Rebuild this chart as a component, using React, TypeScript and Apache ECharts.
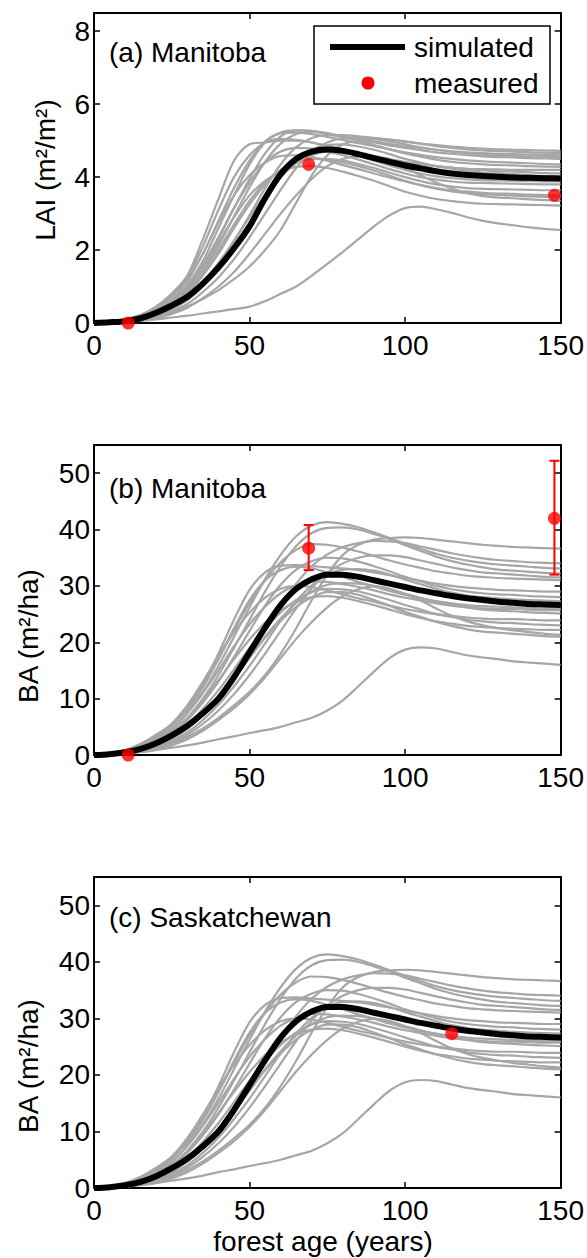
import React, { useEffect, useRef } from "react";
import * as echarts from "echarts";

// ---- ages (x grid shared by all simulated runs), every 5 years ----
const AGES = [0, 5, 10, 15, 20, 25, 30, 35, 40, 45, 50, 55, 60, 65, 70, 75, 80, 85, 90, 95, 100, 105, 110, 115, 120, 125, 130, 135, 140, 145, 150];

// ---- LAI (panel a) ----
const LAI_SIM = [0, 0.02, 0.05, 0.13, 0.28, 0.48, 0.72, 1.08, 1.52, 2.05, 2.65, 3.42, 4.08, 4.5, 4.7, 4.76, 4.72, 4.63, 4.52, 4.42, 4.32, 4.24, 4.16, 4.1, 4.06, 4.03, 4.01, 3.99, 3.98, 3.97, 3.96];
const lai01 = [0, 0.03, 0.1, 0.22, 0.45, 0.8, 1.3, 2.3, 3.4, 4.45, 4.9, 4.95, 5.0, 5.0, 4.95, 4.85, 4.75, 4.65, 4.55, 4.47, 4.4, 4.35, 4.3, 4.26, 4.22, 4.19, 4.16, 4.15, 4.13, 4.11, 4.1];
const lai02 = [0, 0.03, 0.08, 0.18, 0.35, 0.65, 1.05, 1.7, 2.6, 3.5, 4.35, 4.95, 5.22, 5.28, 5.25, 5.18, 5.1, 5.02, 4.95, 4.87, 4.8, 4.74, 4.68, 4.64, 4.6, 4.57, 4.55, 4.54, 4.52, 4.51, 4.5];
const lai03 = [0, 0.02, 0.07, 0.16, 0.3, 0.56, 0.92, 1.5, 2.3, 3.15, 3.95, 4.65, 5.12, 5.28, 5.27, 5.2, 5.12, 5.05, 4.98, 4.91, 4.85, 4.8, 4.75, 4.71, 4.68, 4.66, 4.64, 4.63, 4.62, 4.61, 4.6];
const lai04 = [0, 0.03, 0.09, 0.2, 0.4, 0.72, 1.15, 1.9, 2.8, 3.7, 4.45, 4.98, 5.2, 5.22, 5.18, 5.1, 5.02, 4.93, 4.85, 4.76, 4.68, 4.61, 4.55, 4.5, 4.46, 4.43, 4.41, 4.4, 4.38, 4.36, 4.35];
const lai05 = [0, 0.02, 0.05, 0.12, 0.22, 0.4, 0.68, 1.08, 1.62, 2.25, 2.95, 3.7, 4.35, 4.82, 5.07, 5.15, 5.15, 5.12, 5.08, 5.03, 4.97, 4.92, 4.88, 4.84, 4.8, 4.78, 4.76, 4.75, 4.74, 4.73, 4.72];
const lai06 = [0, 0.01, 0.04, 0.08, 0.15, 0.28, 0.45, 0.66, 0.9, 1.2, 1.55, 2.0, 2.55, 3.3, 4.05, 4.6, 4.9, 5.0, 5.05, 5.03, 4.98, 4.92, 4.85, 4.8, 4.76, 4.73, 4.71, 4.7, 4.68, 4.67, 4.66];
const lai07 = [0, 0.03, 0.1, 0.22, 0.45, 0.8, 1.25, 2.1, 3.1, 4.0, 4.6, 4.95, 5.05, 5.02, 4.95, 4.85, 4.72, 4.58, 4.45, 4.32, 4.2, 4.1, 4.02, 3.97, 3.94, 3.92, 3.91, 3.9, 3.89, 3.88, 3.88];
const lai08 = [0, 0.02, 0.06, 0.14, 0.28, 0.52, 0.88, 1.42, 2.12, 2.92, 3.72, 4.42, 4.92, 5.18, 5.25, 5.2, 5.1, 5.0, 4.88, 4.76, 4.65, 4.56, 4.48, 4.42, 4.38, 4.35, 4.33, 4.32, 4.3, 4.29, 4.28];
const lai09 = [0, 0.03, 0.08, 0.17, 0.33, 0.6, 1.0, 1.6, 2.35, 3.15, 3.85, 4.4, 4.7, 4.8, 4.78, 4.7, 4.6, 4.48, 4.35, 4.22, 4.1, 4.0, 3.93, 3.88, 3.85, 3.84, 3.83, 3.82, 3.81, 3.8, 3.8];
const lai10 = [0, 0.03, 0.09, 0.2, 0.4, 0.74, 1.2, 1.9, 2.75, 3.5, 4.05, 4.4, 4.58, 4.6, 4.55, 4.45, 4.33, 4.22, 4.1, 3.99, 3.88, 3.78, 3.7, 3.64, 3.6, 3.57, 3.55, 3.54, 3.52, 3.51, 3.5];
const lai11 = [0, 0.02, 0.05, 0.11, 0.22, 0.42, 0.7, 1.12, 1.65, 2.25, 2.9, 3.5, 4.0, 4.38, 4.6, 4.7, 4.7, 4.65, 4.58, 4.5, 4.42, 4.36, 4.3, 4.26, 4.23, 4.22, 4.21, 4.2, 4.2, 4.2, 4.2];
const lai12 = [0, 0.02, 0.06, 0.13, 0.25, 0.48, 0.8, 1.3, 1.9, 2.6, 3.25, 3.8, 4.2, 4.42, 4.5, 4.48, 4.4, 4.3, 4.18, 4.04, 3.9, 3.78, 3.68, 3.61, 3.56, 3.53, 3.51, 3.49, 3.47, 3.46, 3.45];
const lai13 = [0, 0.02, 0.07, 0.15, 0.3, 0.56, 0.95, 1.5, 2.2, 2.9, 3.5, 3.9, 4.15, 4.28, 4.3, 4.25, 4.15, 4.03, 3.9, 3.75, 3.6, 3.49, 3.4, 3.34, 3.3, 3.27, 3.26, 3.25, 3.24, 3.23, 3.22];
const lai14 = [0, 0.01, 0.03, 0.07, 0.13, 0.25, 0.42, 0.68, 1.0, 1.4, 1.9, 2.45, 3.0, 3.5, 3.95, 4.3, 4.5, 4.56, 4.55, 4.42, 4.25, 4.05, 3.85, 3.69, 3.56, 3.48, 3.44, 3.42, 3.39, 3.37, 3.35];
const lai15 = [0, 0.02, 0.06, 0.13, 0.26, 0.5, 0.85, 1.35, 2.0, 2.7, 3.35, 3.85, 4.2, 4.42, 4.5, 4.5, 4.45, 4.36, 4.25, 4.12, 4.0, 3.89, 3.8, 3.74, 3.7, 3.68, 3.67, 3.66, 3.65, 3.64, 3.64];
const lai16 = [0, 0.01, 0.03, 0.06, 0.1, 0.15, 0.2, 0.26, 0.32, 0.38, 0.45, 0.6, 0.8, 1.0, 1.3, 1.62, 1.95, 2.3, 2.65, 2.95, 3.15, 3.19, 3.12, 3.02, 2.9, 2.8, 2.73, 2.68, 2.62, 2.58, 2.55];
const lai17 = [0, 0.02, 0.05, 0.11, 0.2, 0.38, 0.62, 1.0, 1.5, 2.1, 2.75, 3.4, 4.0, 4.45, 4.75, 4.88, 4.9, 4.84, 4.75, 4.63, 4.5, 4.4, 4.3, 4.23, 4.17, 4.12, 4.1, 4.08, 4.05, 4.03, 4.02];
const lai18 = [0, 0.01, 0.04, 0.09, 0.17, 0.32, 0.52, 0.85, 1.25, 1.75, 2.35, 3.0, 3.65, 4.25, 4.7, 4.95, 5.06, 5.07, 5.05, 4.98, 4.9, 4.82, 4.75, 4.7, 4.65, 4.61, 4.6, 4.58, 4.57, 4.56, 4.55];
const LAI_RUNS = [lai01, lai02, lai03, lai04, lai05, lai06, lai07, lai08, lai09, lai10, lai11, lai12, lai13, lai14, lai15, lai16, lai17, lai18];

const LAI_MEAS_AGE = [11, 69, 148];
const LAI_MEAS = [0, 4.35, 3.5];

// ---- Basal area (panels b and c) ----
const BA_SIM = [0, 0.15, 0.5, 1.1, 2.1, 3.5, 5.2, 7.4, 10.0, 13.8, 18.2, 22.6, 26.6, 29.5, 31.2, 32.0, 32.0, 31.6, 31.0, 30.4, 29.8, 29.2, 28.7, 28.2, 27.8, 27.5, 27.2, 27.0, 26.8, 26.7, 26.6];
const ba01 = [0, 0.3, 0.8, 1.7, 3.2, 5.5, 8.5, 12.5, 18.0, 24.0, 29.3, 32.4, 33.6, 33.7, 33.5, 33.3, 33.1, 32.8, 32.4, 31.9, 31.4, 30.9, 30.4, 30.0, 29.7, 29.5, 29.3, 29.2, 29.1, 29.0, 29.0];
const ba02 = [0, 0.2, 0.6, 1.4, 2.6, 4.6, 7.5, 11.2, 15.8, 21.0, 26.2, 31.2, 35.5, 38.8, 40.7, 41.3, 41.0, 40.4, 39.5, 38.5, 37.5, 36.6, 35.7, 35.0, 34.5, 34.1, 33.8, 33.6, 33.4, 33.2, 33.1];
const ba03 = [0, 0.2, 0.5, 1.2, 2.2, 4.0, 6.6, 10.0, 14.2, 19.0, 24.0, 29.0, 33.5, 37.1, 39.4, 40.3, 40.4, 40.0, 39.2, 38.3, 37.2, 36.2, 35.2, 34.4, 33.8, 33.3, 32.9, 32.7, 32.5, 32.3, 32.2];
const ba04 = [0, 0.2, 0.7, 1.6, 2.9, 5.1, 8.2, 12.2, 17.0, 22.2, 27.0, 31.0, 34.2, 36.4, 37.4, 37.3, 36.8, 36.1, 35.3, 34.5, 33.8, 33.2, 32.6, 32.2, 31.8, 31.6, 31.4, 31.3, 31.2, 31.1, 31.0];
const ba05 = [0, 0.1, 0.4, 0.9, 1.7, 3.0, 4.8, 7.2, 10.2, 13.7, 17.6, 22.0, 26.5, 30.4, 33.5, 35.6, 36.9, 37.6, 38.0, 37.9, 37.6, 37.0, 36.4, 35.8, 35.3, 34.9, 34.6, 34.4, 34.2, 34.1, 34.0];
const ba06 = [0, 0.1, 0.3, 0.6, 1.1, 2.0, 3.2, 4.7, 6.6, 8.8, 11.2, 14.2, 18.0, 22.5, 27.5, 32.0, 35.5, 37.3, 38.2, 38.5, 38.6, 38.5, 38.2, 37.9, 37.6, 37.3, 37.1, 36.9, 36.8, 36.7, 36.6];
const ba07 = [0, 0.3, 0.9, 2.0, 3.6, 5.5, 8.0, 12.0, 17.0, 22.5, 27.5, 31.0, 32.8, 33.4, 33.1, 32.4, 31.6, 30.7, 29.9, 29.1, 28.4, 27.8, 27.3, 26.9, 26.6, 26.4, 26.3, 26.2, 26.1, 26.0, 26.0];
const ba08 = [0, 0.2, 0.5, 1.1, 2.1, 3.8, 6.2, 9.3, 13.0, 17.4, 22.0, 26.5, 30.2, 32.9, 34.4, 35.0, 34.9, 34.3, 33.5, 32.6, 31.6, 30.8, 30.0, 29.4, 29.0, 28.7, 28.5, 28.4, 28.2, 28.1, 28.0];
const ba09 = [0, 0.2, 0.6, 1.3, 2.5, 4.5, 7.4, 11.0, 15.0, 19.3, 23.2, 26.3, 28.7, 30.1, 30.8, 30.7, 30.3, 29.8, 29.2, 28.5, 27.9, 27.4, 26.9, 26.5, 26.2, 26.0, 25.9, 25.9, 25.8, 25.7, 25.7];
const ba10 = [0, 0.2, 0.7, 1.6, 3.0, 5.5, 8.8, 13.0, 17.6, 21.8, 25.3, 27.9, 29.5, 30.0, 29.8, 29.2, 28.5, 27.8, 27.2, 26.5, 25.9, 25.4, 25.0, 24.7, 24.4, 24.2, 24.1, 24.1, 24.0, 23.9, 23.9];
const ba11 = [0, 0.1, 0.4, 0.9, 1.6, 2.9, 4.8, 7.3, 10.4, 13.8, 17.4, 21.0, 24.2, 27.0, 29.0, 30.2, 30.5, 30.4, 30.0, 29.4, 28.6, 27.9, 27.2, 26.7, 26.2, 25.8, 25.6, 25.5, 25.3, 25.2, 25.1];
const ba12 = [0, 0.1, 0.4, 1.0, 1.8, 3.3, 5.4, 8.2, 11.5, 15.2, 19.0, 22.4, 25.3, 27.5, 28.9, 29.5, 29.4, 29.0, 28.3, 27.5, 26.6, 25.8, 25.0, 24.5, 24.0, 23.7, 23.5, 23.4, 23.2, 23.1, 23.0];
const ba13 = [0, 0.2, 0.5, 1.2, 2.2, 4.0, 6.5, 9.7, 13.3, 17.0, 20.5, 23.5, 25.7, 27.2, 28.0, 28.2, 27.9, 27.3, 26.6, 25.8, 25.0, 24.3, 23.7, 23.3, 22.9, 22.7, 22.5, 22.4, 22.3, 22.2, 22.2];
const ba14 = [0, 0.1, 0.2, 0.5, 0.9, 1.7, 2.8, 4.3, 6.2, 8.3, 10.8, 13.8, 17.2, 20.6, 23.6, 26.2, 28.2, 29.4, 29.9, 29.5, 28.6, 27.4, 26.0, 24.7, 23.7, 23.0, 22.5, 22.1, 21.8, 21.5, 21.3];
const ba15 = [0, 0.1, 0.3, 0.8, 1.5, 2.8, 4.6, 7.0, 10.0, 13.5, 17.2, 20.8, 23.8, 26.3, 28.0, 28.9, 28.9, 28.4, 27.5, 26.5, 25.4, 24.5, 23.6, 22.9, 22.3, 21.9, 21.7, 21.5, 21.3, 21.1, 21.0];
const ba16 = [0, 0.1, 0.3, 0.6, 0.9, 1.3, 1.7, 2.2, 2.8, 3.3, 3.9, 4.4, 5.0, 5.8, 6.6, 7.9, 9.7, 12.2, 14.8, 17.2, 18.7, 19.1, 18.9, 18.3, 17.7, 17.3, 17.0, 16.6, 16.4, 16.2, 16.0];
const ba17 = [0, 0.1, 0.3, 0.7, 1.3, 2.5, 4.0, 6.2, 8.9, 12.2, 15.8, 19.8, 23.8, 27.3, 30.1, 32.0, 32.9, 33.0, 32.7, 32.0, 31.1, 30.3, 29.5, 28.8, 28.3, 28.0, 27.8, 27.6, 27.5, 27.4, 27.3];
const ba18 = [0, 0.1, 0.3, 0.7, 1.2, 2.2, 3.6, 5.5, 7.9, 10.8, 14.2, 18.0, 22.0, 26.0, 29.6, 32.3, 34.0, 35.0, 35.4, 35.4, 35.1, 34.5, 33.9, 33.3, 32.8, 32.4, 32.2, 32.0, 31.8, 31.6, 31.5];
const BA_RUNS = [ba01, ba02, ba03, ba04, ba05, ba06, ba07, ba08, ba09, ba10, ba11, ba12, ba13, ba14, ba15, ba16, ba17, ba18];

const BA_MB_AGE = [11, 69, 148];
const BA_MB = [0, 36.7, 42.0];
const BA_MB_ERR_AGE = [69, 148];
const BA_MB_ERR_LO = [32.8, 32.0];
const BA_MB_ERR_HI = [40.8, 52.2];

const BA_SK_AGE = [115];
const BA_SK = [27.3];

// ---- tick labels / texts ----
const X_TICKS = [0, 50, 100, 150];
const LAI_TICKS = [0, 2, 4, 6, 8];
const BA_TICKS = [0, 10, 20, 30, 40, 50];
const PANEL_TITLES = ["(a) Manitoba", "(b) Manitoba", "(c) Saskatchewan"];
const Y_NAMES = ["LAI (m²/m²)", "BA (m²/ha)", "BA (m²/ha)"];
const X_NAME = "forest age (years)";
const LEGEND_NAMES = ["simulated", "measured"];

const FONT = "'Liberation Sans', Arial, Helvetica, sans-serif";
const FS = 28;
const GRAY = "#a6a6a6";
const RED = "#ff0000";

const PANELS = [
  { top: 13, height: 310, yMax: 8.5, step: 2, ticks: LAI_TICKS, titleY: 52, nameX: 45, nameY: 170 },
  { top: 445, height: 310, yMax: 55, step: 10, ticks: BA_TICKS, titleY: 488, nameX: 28, nameY: 636 },
  { top: 877, height: 311, yMax: 55, step: 10, ticks: BA_TICKS, titleY: 917, nameX: 28, nameY: 1066 },
];

function buildOption() {
  const grid: any[] = [];
  const xAxis: any[] = [];
  const yAxis: any[] = [];
  const series: any[] = [];
  const axisLine = { show: true, onZero: false, lineStyle: { color: "#000", width: 2 } };
  const axisTick = { show: true, inside: true, length: 6, lineStyle: { color: "#000", width: 1.5 } };

  PANELS.forEach((p, i) => {
    grid.push({ left: 94, width: 468, top: p.top, height: p.height, containLabel: false });
    const xBase = { type: "value", gridIndex: i, min: 0, max: 150, interval: 50, splitLine: { show: false }, axisLine, axisTick };
    xAxis.push({
      ...xBase,
      position: "bottom",
      axisLabel: {
        show: true, margin: 8, color: "#000", fontSize: FS, fontFamily: FONT,
        formatter: (v: number) => (X_TICKS.includes(v) ? String(v) : ""),
      },
    });
    xAxis.push({ ...xBase, position: "top", axisLabel: { show: false } });
    const yBase = { type: "value", gridIndex: i, min: 0, max: p.yMax, interval: p.step, splitLine: { show: false }, axisLine, axisTick };
    yAxis.push({
      ...yBase,
      position: "left",
      axisLabel: {
        show: true, margin: 4, color: "#000", fontSize: FS, fontFamily: FONT,
        formatter: (v: number) => (p.ticks.includes(v) ? String(v) : ""),
      },
    });
    yAxis.push({ ...yBase, position: "right", axisLabel: { show: false } });
  });

  const runs = [LAI_RUNS, BA_RUNS, BA_RUNS];
  const sims = [LAI_SIM, BA_SIM, BA_SIM];
  runs.forEach((set, i) => {
    set.forEach((r) => {
      series.push({
        type: "line", xAxisIndex: 2 * i, yAxisIndex: 2 * i,
        data: AGES.map((a, k) => [a, r[k]]),
        smooth: 0.3, showSymbol: false, symbol: "none",
        lineStyle: { color: GRAY, width: 2.2 }, z: 2, silent: true,
      });
    });
    series.push({
      type: "line", name: "simulated", xAxisIndex: 2 * i, yAxisIndex: 2 * i,
      data: AGES.map((a, k) => [a, sims[i][k]]),
      smooth: 0.3, showSymbol: false, symbol: "none",
      lineStyle: { color: "#000", width: 6 }, z: 3, silent: true,
    });
  });

  // error bars (panel b)
  series.push({
    type: "custom", xAxisIndex: 2, yAxisIndex: 2, z: 4, clip: false, silent: true,
    data: BA_MB_ERR_AGE.map((a, k) => [a, BA_MB_ERR_LO[k], BA_MB_ERR_HI[k]]),
    encode: { x: 0, y: [1, 2] },
    renderItem: (_params: any, api: any) => {
      const x = api.value(0);
      const lo = api.coord([x, api.value(1)]);
      const hi = api.coord([x, api.value(2)]);
      const hw = 5;
      const st = { stroke: RED, lineWidth: 2 };
      return {
        type: "group",
        children: [
          { type: "line", shape: { x1: lo[0], y1: lo[1], x2: hi[0], y2: hi[1] }, style: st },
          { type: "line", shape: { x1: lo[0] - hw, y1: lo[1], x2: lo[0] + hw, y2: lo[1] }, style: st },
          { type: "line", shape: { x1: hi[0] - hw, y1: hi[1], x2: hi[0] + hw, y2: hi[1] }, style: st },
        ],
      };
    },
  });

  const meas = [
    { idx: 0, ages: LAI_MEAS_AGE, vals: LAI_MEAS },
    { idx: 1, ages: BA_MB_AGE, vals: BA_MB },
    { idx: 2, ages: BA_SK_AGE, vals: BA_SK },
  ];
  meas.forEach((m) => {
    series.push({
      type: "scatter", name: "measured", xAxisIndex: 2 * m.idx, yAxisIndex: 2 * m.idx,
      data: m.ages.map((a, k) => [a, m.vals[k]]),
      symbol: "circle", symbolSize: 13, itemStyle: { color: RED }, z: 5, clip: false, silent: true,
    });
  });

  const textStyle = (text: string, align = "left") => ({
    text, fill: "#000", fontSize: FS, fontFamily: FONT, align, verticalAlign: "middle",
  });

  const graphic: any[] = [];
  PANELS.forEach((p, i) => {
    graphic.push({ type: "text", x: 109, y: p.titleY, z: 50, style: textStyle(PANEL_TITLES[i]) });
    graphic.push({ type: "text", x: p.nameX, y: p.nameY, rotation: Math.PI / 2, z: 50, style: textStyle(Y_NAMES[i], "center") });
  });
  graphic.push({ type: "text", x: 323, y: 1241, z: 50, style: textStyle(X_NAME, "center") });

  // legend box (panel a)
  graphic.push({ type: "rect", z: 100, shape: { x: 314, y: 26, width: 236, height: 78 }, style: { fill: "#fff", stroke: "#000", lineWidth: 1.5 } });
  graphic.push({ type: "line", z: 101, shape: { x1: 330, y1: 47, x2: 405, y2: 47 }, style: { stroke: "#000", lineWidth: 6 } });
  graphic.push({ type: "circle", z: 101, shape: { cx: 368, cy: 83, r: 6.5 }, style: { fill: RED } });
  graphic.push({ type: "text", z: 101, x: 414, y: 47, style: textStyle(LEGEND_NAMES[0]) });
  graphic.push({ type: "text", z: 101, x: 414, y: 83, style: textStyle(LEGEND_NAMES[1]) });

  return {
    animation: false,
    backgroundColor: "#fff",
    grid, xAxis, yAxis, series, graphic,
  };
}

export default function App() {
  const ref = useRef<HTMLDivElement>(null);
  useEffect(() => {
    if (!ref.current) return;
    const chart = echarts.init(ref.current, null, { renderer: "svg" });
    chart.setOption(buildOption() as any);
    return () => chart.dispose();
  }, []);
  return (
    <div
      ref={ref}
      style={{ position: "fixed", left: 0, top: 0, width: 587, height: 1258, background: "#fff" }}
    />
  );
}
